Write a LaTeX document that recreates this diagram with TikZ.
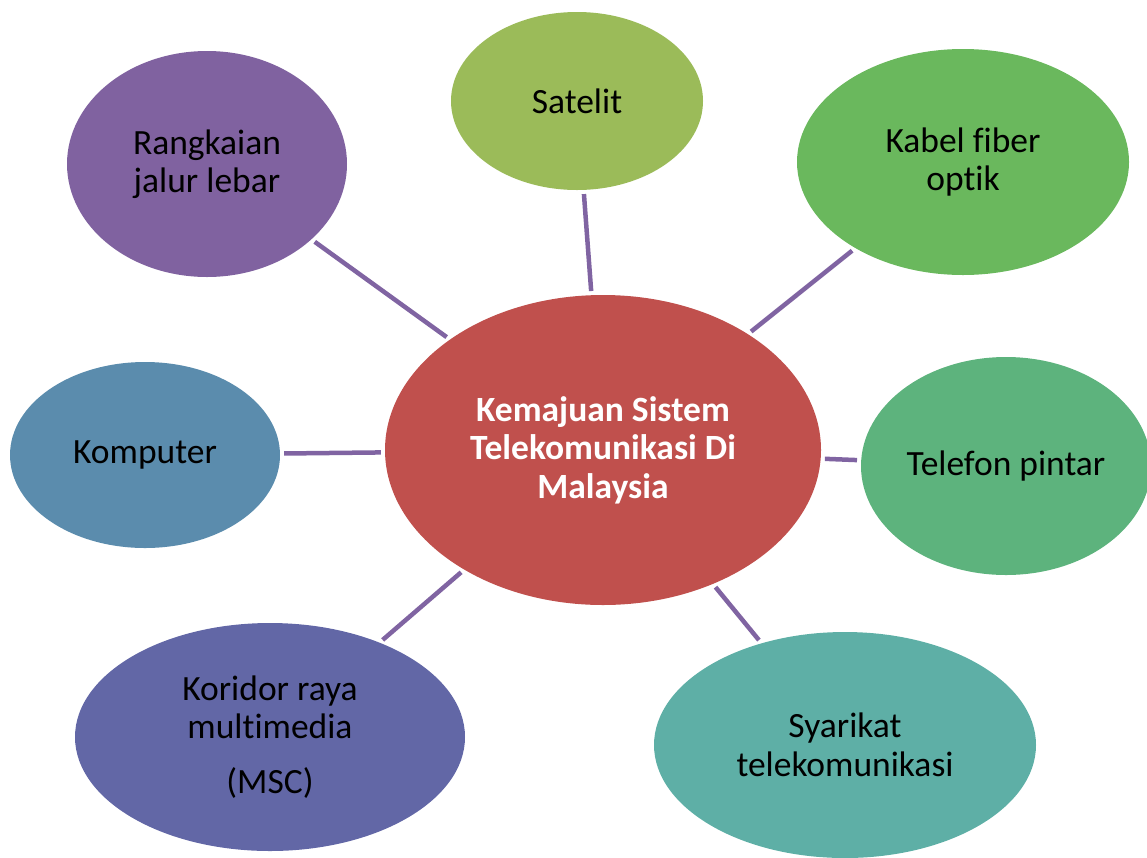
\documentclass[tikz,border=0pt]{standalone}
\usepackage{fontspec}
\setmainfont{Carlito}[RawFeature=-liga]
\usetikzlibrary{shapes.geometric}
\definecolor{cmain}{HTML}{C0504D}
\definecolor{csat}{HTML}{9BBB59}
\definecolor{ckabel}{HTML}{6AB85D}
\definecolor{ctel}{HTML}{5DB37D}
\definecolor{csyar}{HTML}{5EAFA6}
\definecolor{ckor}{HTML}{6267A6}
\definecolor{ckomp}{HTML}{5B8CAD}
\definecolor{crang}{HTML}{8062A0}
\definecolor{cline}{HTML}{8064A2}
\tikzset{
  bubble/.style={ellipse, draw=none, inner sep=0pt, align=center,
    font=\fontsize{35.5}{38.5}\selectfont, text=black},
  link/.style={draw=cline, line width=4.5pt, shorten >=4pt, shorten <=4pt}
}
\begin{document}
\begin{tikzpicture}[x=1pt,y=-1pt]
\useasboundingbox (0,0) rectangle (1147,857);
\node[bubble, fill=cmain, minimum width=436pt, minimum height=310pt, text=white, font=\fontsize{35.5}{38.5}\selectfont\bfseries] (main) at (603,450) {Kemajuan Sistem\\Telekomunikasi Di\\Malaysia};
\node[bubble, fill=csat, minimum width=252pt, minimum height=178pt] (sat) at (577,101) {Satelit};
\node[bubble, fill=ckabel, minimum width=332pt, minimum height=226pt] (kab) at (963,162) {Kabel fiber\\optik};
\node[bubble, fill=ctel, minimum width=290pt, minimum height=218pt] (tel) at (1006,466) {Telefon pintar};
\node[bubble, fill=csyar, minimum width=382pt, minimum height=226pt] (syr) at (845,745) {Syarikat\\telekomunikasi};
\node[bubble, fill=ckor, minimum width=390pt, minimum height=228pt] (kor) at (270,737) {Koridor raya\\multimedia\\[16pt](MSC)};
\node[bubble, fill=ckomp, minimum width=270pt, minimum height=186pt] (komp) at (145,455) {Komputer};
\node[bubble, fill=crang, minimum width=280pt, minimum height=226pt] (rang) at (207,164) {Rangkaian\\jalur lebar};
\draw[link] (sat) -- (main);
\draw[link] (kab) -- (main);
\draw[link] (tel) -- (main);
\draw[link] (syr) -- (main);
\draw[link] (kor) -- (main);
\draw[link] (komp) -- (main);
\draw[link] (rang) -- (main);
\end{tikzpicture}
\end{document}
